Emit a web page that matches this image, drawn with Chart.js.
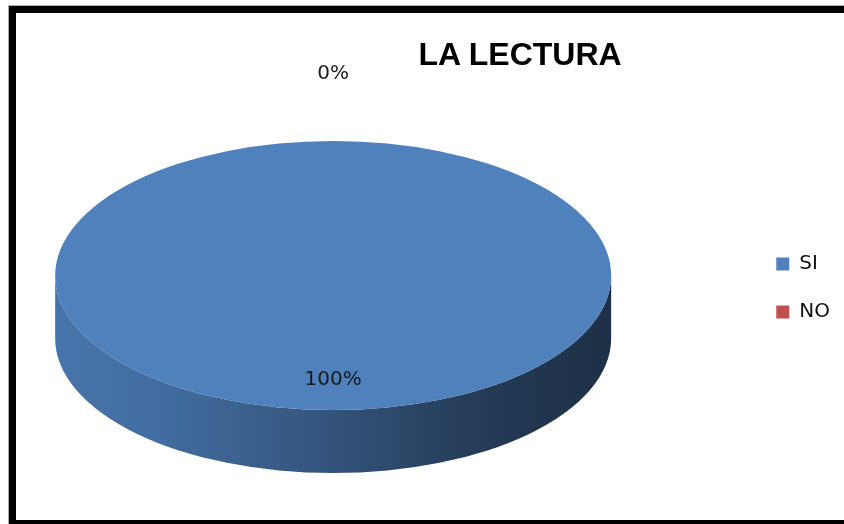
<!DOCTYPE html>
<html>
<head>
<meta charset="utf-8">
<script src="https://cdn.jsdelivr.net/npm/chart.js@4/dist/chart.umd.min.js"></script>
<style>
html,body{margin:0;padding:0;background:#fff;overflow:hidden;width:844px;height:524px;position:relative}
#wrap{position:absolute;left:-82px;top:0;width:926px;height:524px}
#frame{position:absolute;left:9px;top:6px;width:900px;height:521px;box-sizing:border-box;border:7px solid #000;box-shadow:0 0 0 1px #aaa;pointer-events:none}
#title{position:absolute;top:36px;left:400px;width:240px;text-align:center;font:bold 32px "Liberation Sans",Arial,sans-serif;color:#000;line-height:37px;white-space:nowrap}
</style>
</head>
<body>
<div id="wrap"><canvas id="c" width="926" height="524"></canvas></div>
<div id="title"></div>
<div id="frame"></div>
<script>
// ---- data ----
const TITLE = 'LA LECTURA';
const categories = ['SI', 'NO'];
const values = [100, 0];
const colors = ['#4F81BD', '#C0504D'];

document.getElementById('title').textContent = TITLE;

function shade(hex, f) {
  const n = parseInt(hex.slice(1), 16);
  const r = Math.round(((n >> 16) & 255) * f), g = Math.round(((n >> 8) & 255) * f), b = Math.round((n & 255) * f);
  return `rgb(${r},${g},${b})`;
}

const pie3d = {
  id: 'pie3d',
  beforeDatasetsDraw(chart, args, opts) {
    const ctx = chart.ctx;
    const arcs = chart.getDatasetMeta(0).data;
    if (!arcs.length) return;
    const cx = arcs[0].x, cy = arcs[0].y, r = arcs[0].outerRadius;
    const k = opts.tilt, depth = opts.depth, ry = r * k;
    ctx.save();
    arcs.forEach((arc, i) => {
      const s = arc.startAngle, e = arc.endAngle;
      if (e - s < 1e-6) return;
      for (let off = -2 * Math.PI; off <= 2 * Math.PI + 1e-9; off += 2 * Math.PI) {
        const a0 = Math.max(s + off, 0), a1 = Math.min(e + off, Math.PI);
        if (a1 - a0 <= 1e-6) continue;
        const grad = ctx.createLinearGradient(cx - r, 0, cx + r, 0);
        opts.sideShade.forEach(([t, f]) => grad.addColorStop(t, shade(colors[i], f)));
        ctx.beginPath();
        ctx.ellipse(cx, cy, r, ry, 0, a0, a1, false);
        ctx.ellipse(cx, cy + depth, r, ry, 0, a1, a0, true);
        ctx.closePath();
        ctx.fillStyle = grad;
        ctx.fill();
      }
    });
    ctx.translate(0, cy);
    ctx.scale(1, k);
    ctx.translate(0, -cy);
    arcs.forEach(a => a.draw(ctx));
    ctx.restore();
    return false;
  },
  afterDraw(chart, args, opts) {
    const ctx = chart.ctx;
    const arcs = chart.getDatasetMeta(0).data;
    const total = values.reduce((a, b) => a + b, 0);
    ctx.save();
    ctx.font = opts.labelFont;
    ctx.fillStyle = opts.labelColor;
    ctx.textAlign = 'center';
    ctx.textBaseline = 'alphabetic';
    arcs.forEach((arc, i) => {
      const mid = (arc.startAngle + arc.endAngle) / 2;
      const f = opts.labelRadius[i];
      const x = arc.x + Math.cos(mid) * arc.outerRadius * f;
      const y = arc.y + Math.sin(mid) * arc.outerRadius * f * opts.tilt;
      const txt = Math.round(values[i] / total * 100) + '%';
      ctx.fillText(txt, x, y + opts.labelSize * 0.36);
    });
    ctx.restore();
  }
};

new Chart(document.getElementById('c'), {
  type: 'pie',
  data: {
    labels: categories,
    datasets: [{
      data: values,
      backgroundColor: colors,
      borderWidth: 0,
      radius: 278
    }]
  },
  options: {
    responsive: false,
    animation: false,
    devicePixelRatio: 1,
    layout: { padding: { top: 27, bottom: 0, left: 0, right: 4 } },
    plugins: {
      title: { display: false },
      tooltip: { enabled: false },
      legend: {
        position: 'right',
        align: 'center',
        title: { display: true, text: '', font: { size: 10, lineHeight: 1 }, padding: { top: 15, bottom: 0 } },
        labels: {
          boxWidth: 13,
          boxHeight: 13,
          padding: 28,
          color: '#111',
          font: { family: '"DejaVu Sans", Verdana, sans-serif', size: 20 }
        }
      },
      pie3d: {
        tilt: 0.484,
        depth: 63,
        sideShade: [[0, 0.9], [0.2, 0.84], [0.48, 0.66], [0.66, 0.53], [0.8, 0.44], [1, 0.37]],
        labelRadius: [0.762, 1.517],
        labelFont: '20px "DejaVu Sans", Verdana, sans-serif',
        labelSize: 20,
        labelColor: '#1a1a1a'
      }
    }
  },
  plugins: [pie3d]
});
</script>
</body>
</html>
